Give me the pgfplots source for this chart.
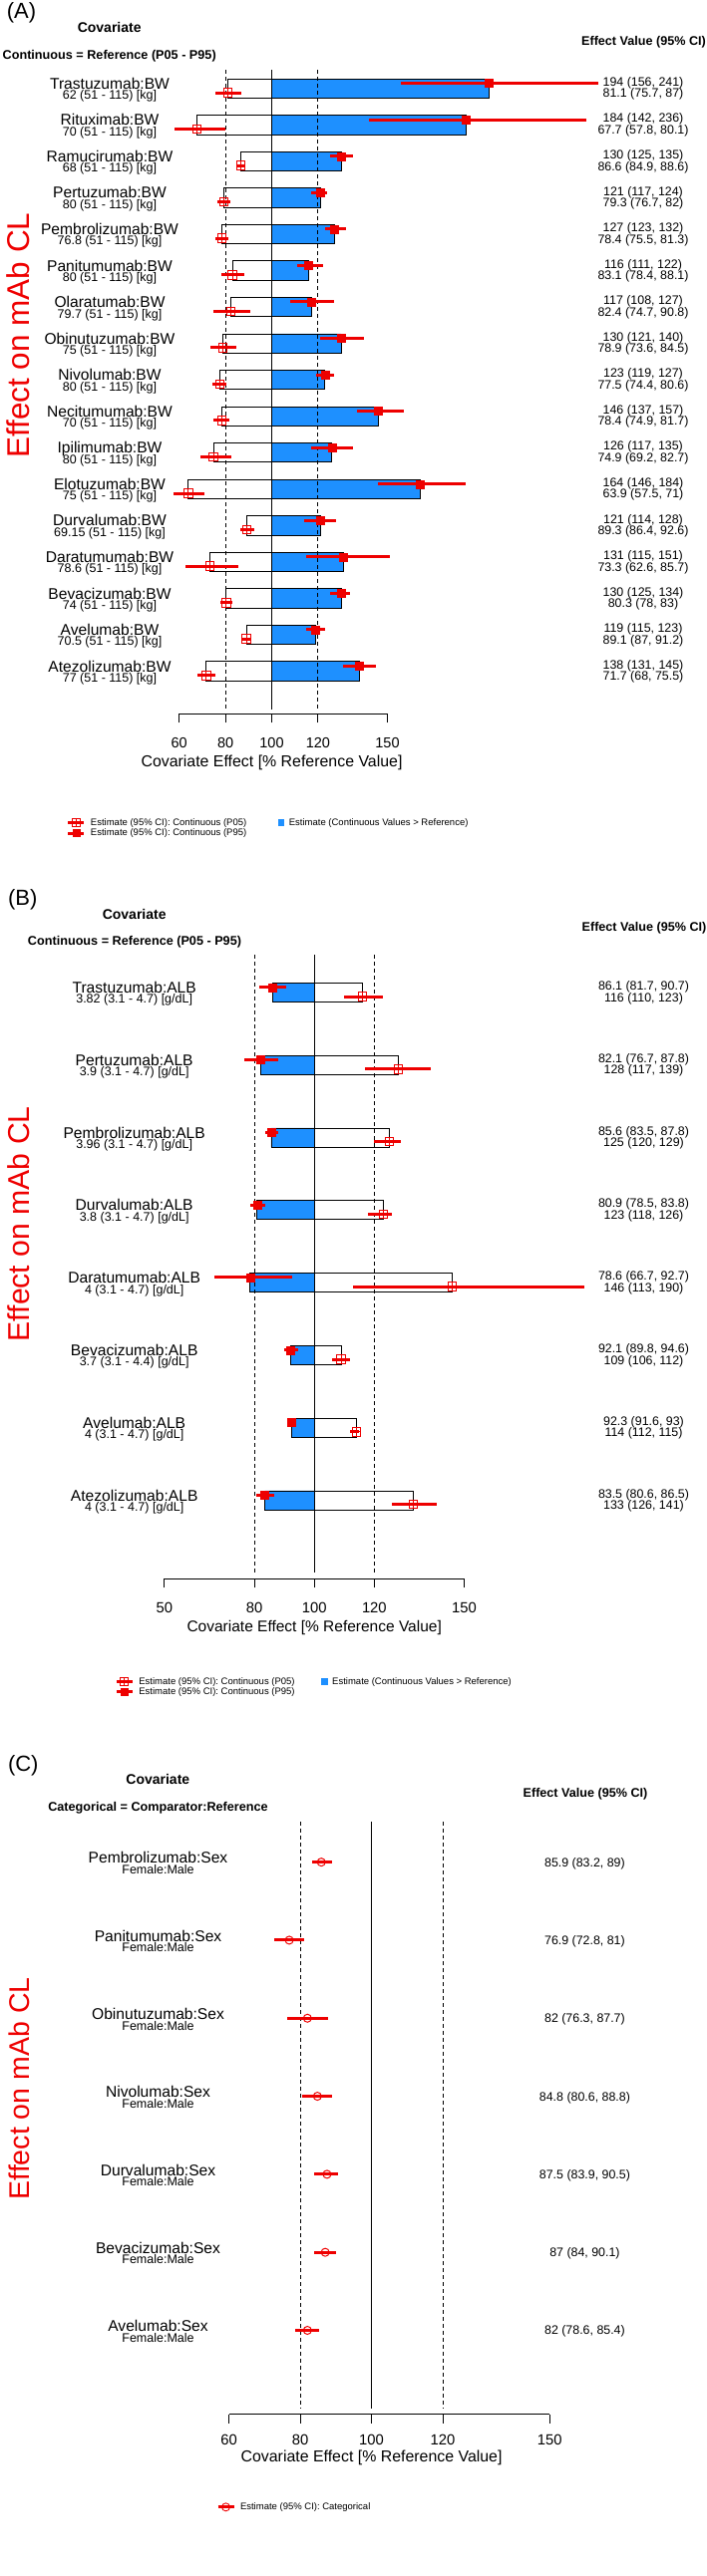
\documentclass[border=0pt]{standalone}
\usepackage{fontspec}
\setmainfont{Liberation Sans}
\usepackage{pgfplots}
\usepackage{pgfplotstable}
\pgfplotsset{compat=1.18}
\definecolor{dodger}{RGB}{30,144,255}
\definecolor{myred}{RGB}{238,0,0}
\newcommand\fs[1]{\fontsize{#1}{#1}\selectfont}

\pgfdeclareplotmark{boxplus}{%
  \pgfpathrectangle{\pgfpoint{-\pgfplotmarksize}{-\pgfplotmarksize}}{\pgfpoint{2\pgfplotmarksize}{2\pgfplotmarksize}}%
  \pgfpathmoveto{\pgfpoint{-\pgfplotmarksize}{0pt}}\pgfpathlineto{\pgfpoint{\pgfplotmarksize}{0pt}}%
  \pgfpathmoveto{\pgfpoint{0pt}{-\pgfplotmarksize}}\pgfpathlineto{\pgfpoint{0pt}{\pgfplotmarksize}}%
  \pgfusepathqstroke}

\pgfplotstableread{
name e95 l95 h95 e05 l05 h05
Trastuzumab 194 156 241 81.1 75.7 87
Rituximab 184 142 236 67.7 57.8 80.1
Ramucirumab 130 125 135 86.6 84.9 88.6
Pertuzumab 121 117 124 79.3 76.7 82
Pembrolizumab 127 123 132 78.4 75.5 81.3
Panitumumab 116 111 122 83.1 78.4 88.1
Olaratumab 117 108 127 82.4 74.7 90.8
Obinutuzumab 130 121 140 78.9 73.6 84.5
Nivolumab 123 119 127 77.5 74.4 80.6
Necitumumab 146 137 157 78.4 74.9 81.7
Ipilimumab 126 117 135 74.9 69.2 82.7
Elotuzumab 164 146 184 63.9 57.5 71
Durvalumab 121 114 128 89.3 86.4 92.6
Daratumumab 131 115 151 73.3 62.6 85.7
Bevacizumab 130 125 134 80.3 78 83
Avelumab 119 115 123 89.1 87 91.2
Atezolizumab 138 131 145 71.7 68 75.5
}\tabA

\pgfplotstableread{
name e95 l95 h95 e05 l05 h05
Trastuzumab 86.1 81.7 90.7 116 110 123
Pertuzumab 82.1 76.7 87.8 128 117 139
Pembrolizumab 85.6 83.5 87.8 125 120 129
Durvalumab 80.9 78.5 83.8 123 118 126
Daratumumab 78.6 66.7 92.7 146 113 190
Bevacizumab 92.1 89.8 94.6 109 106 112
Avelumab 92.3 91.6 93 114 112 115
Atezolizumab 83.5 80.6 86.5 133 126 141
}\tabB

\pgfplotstableread{
name est lo hi
Pembrolizumab 85.9 83.2 89
Panitumumab 76.9 72.8 81
Obinutuzumab 82 76.3 87.7
Nivolumab 84.8 80.6 88.8
Durvalumab 87.5 83.9 90.5
Bevacizumab 87 84 90.1
Avelumab 82 78.6 85.4
}\tabC

% row text: #1 label x, #2 value x, #3 row, #4 name, #5 sub, #6 top value, #7 bottom value
\newcommand\rowlab[7]{%
  \node[anchor=base, font={\fs{15.6}}, yshift=-0.6pt] at (axis cs:#1,-#3) {#4};
  \node[anchor=base, font={\fs{12.5}}, yshift=-11pt] at (axis cs:#1,-#3) {#5};
  \node[anchor=base, font={\fs{12.4}}, yshift=2.3pt] at (axis cs:#2,-#3) {#6};
  \node[anchor=base, font={\fs{12.4}}, yshift=-9.2pt] at (axis cs:#2,-#3) {#7};
}
\newcommand\rowlabC[5]{%
  \node[anchor=base, font={\fs{15.6}}, yshift=-1.3pt] at (axis cs:#1,-#3) {#4:Sex};
  \node[anchor=base, font={\fs{12.5}}, yshift=-11.8pt] at (axis cs:#1,-#3) {Female:Male};
  \node[anchor=base, font={\fs{12.4}}, yshift=-4.5pt] at (axis cs:#2,-#3) {#5};
}

\pgfplotsset{
  forest/.style={
    scale only axis, anchor=north west, clip=false, enlargelimits=false,
    axis x line*=bottom, axis y line=none, ytick=\empty,
    x axis line style={-, line width=1pt},
    tick align=outside, major tick length=9pt,
    xtick style={black, line width=1pt},
    xlabel={Covariate Effect [\% Reference Value]},
    legend image code/.code={\draw[mark repeat=2,mark phase=2,##1] plot coordinates {(0pt,0pt) (8pt,0pt) (16pt,0pt)};},
    legend style={draw=none, fill=none, inner sep=0pt, outer sep=0pt, font={\fs{9.5}},
      anchor=north west, legend cell align=left, nodes={inner sep=1pt}, row sep=0pt,
      /tikz/every odd column/.append style={column sep=4pt}},
  },
  refl/.style={black, line width=1pt, forget plot},
  dashl/.style={black, line width=1pt, dash pattern=on 4pt off 3pt, forget plot},
}

\begin{document}
\begin{tikzpicture}
\useasboundingbox (0,0) rectangle (709pt,-2585pt);

% ---------------- Panel A ----------------
\node[anchor=base west, font={\fs{22}}] at (3.3pt,-18.7pt) {(A)};
\node[anchor=base, font={\bfseries\fs{14}}] at (109.7pt,-32.7pt) {Covariate};
\node[anchor=base, font={\bfseries\fs{12.65}}] at (109.7pt,-59.5pt) {Continuous = Reference (P05 - P95)};
\node[anchor=base, font={\bfseries\fs{12.6}}] at (645.5pt,-45.2pt) {Effect Value (95\% CI)};
\node[rotate=90, anchor=base, font={\fs{31.5}}, text=myred] at (29.4pt,-336.7pt) {Effect on mAb CL};

\begin{axis}[forest,
  width=208.8pt, height=646.2pt, at={(179.7pt,-70.06pt)},
  xmin=-40, xmax=50, ymin=-17.17, ymax=0.51,
  xtick={-40,-20,0,20,50}, xticklabels={60,80,100,120,150},
  xticklabel style={font={\fs{14.5}}, anchor=base, yshift=-25.2pt},
  xlabel style={font={\fs{15.9}}, at={(axis description cs:0.4444,0)}, anchor=base, yshift=-53.7pt},
  legend columns=2,
  legend style={at={(-0.5398,-0.1613)}, /tikz/every even column/.append style={column sep=31pt}},
]
\addplot[xbar, bar shift=0pt, bar width=19.3pt, fill=dodger, draw=black, line width=0.8pt, forget plot]
  table[x expr=\thisrow{e95}-100, y expr=-\coordindex] {\tabA};
\addplot[xbar, bar shift=0pt, bar width=19.3pt, fill=none, draw=black, line width=0.8pt, forget plot]
  table[x expr=\thisrow{e05}-100, y expr=-\coordindex] {\tabA};
\addplot[dashl] coordinates {(-20,0.51) (-20,-17.05)};
\addplot[refl] coordinates {(0,0.51) (0,-17.05)};
\addplot[dashl] coordinates {(20,0.51) (20,-17.05)};
\addplot[only marks, myred, mark=square*, mark size=4pt, mark options={line width=0.4pt}, forget plot,
  error bars/.cd, x dir=both, x explicit, error mark=none, error bar style={line width=3pt, myred}]
  table[x expr=\thisrow{e95}-100, y expr=-\coordindex+0.137,
        x error plus expr=\thisrow{h95}-\thisrow{e95}, x error minus expr=\thisrow{e95}-\thisrow{l95}] {\tabA};
\addplot[only marks, myred, mark=boxplus, mark size=4.3pt, mark options={line width=1pt}, forget plot,
  error bars/.cd, x dir=both, x explicit, error mark=none, error bar style={line width=3pt, myred}]
  table[x expr=\thisrow{e05}-100, y expr=-\coordindex-0.118,
        x error plus expr=\thisrow{h05}-\thisrow{e05}, x error minus expr=\thisrow{e05}-\thisrow{l05}] {\tabA};
\addlegendimage{myred, line width=3pt, mark=boxplus, mark size=4pt, mark options={line width=0.9pt}}
\addlegendentry{Estimate (95\% CI): Continuous (P05)}
\addlegendimage{only marks, mark=square*, mark size=2.8pt, mark options={fill=dodger, draw=dodger, line width=0pt}}
\addlegendentry{Estimate (Continuous Values > Reference)}
\addlegendimage{myred, line width=3pt, mark=square*, mark size=3.5pt, mark options={line width=0.4pt}}
\addlegendentry{Estimate (95\% CI): Continuous (P95)}
\rowlab{-70.04}{160.56}{0}{Trastuzumab:BW}{62 (51 - 115) [kg]}{194 (156, 241)}{81.1 (75.7, 87)}
\rowlab{-70.04}{160.56}{1}{Rituximab:BW}{70 (51 - 115) [kg]}{184 (142, 236)}{67.7 (57.8, 80.1)}
\rowlab{-70.04}{160.56}{2}{Ramucirumab:BW}{68 (51 - 115) [kg]}{130 (125, 135)}{86.6 (84.9, 88.6)}
\rowlab{-70.04}{160.56}{3}{Pertuzumab:BW}{80 (51 - 115) [kg]}{121 (117, 124)}{79.3 (76.7, 82)}
\rowlab{-70.04}{160.56}{4}{Pembrolizumab:BW}{76.8 (51 - 115) [kg]}{127 (123, 132)}{78.4 (75.5, 81.3)}
\rowlab{-70.04}{160.56}{5}{Panitumumab:BW}{80 (51 - 115) [kg]}{116 (111, 122)}{83.1 (78.4, 88.1)}
\rowlab{-70.04}{160.56}{6}{Olaratumab:BW}{79.7 (51 - 115) [kg]}{117 (108, 127)}{82.4 (74.7, 90.8)}
\rowlab{-70.04}{160.56}{7}{Obinutuzumab:BW}{75 (51 - 115) [kg]}{130 (121, 140)}{78.9 (73.6, 84.5)}
\rowlab{-70.04}{160.56}{8}{Nivolumab:BW}{80 (51 - 115) [kg]}{123 (119, 127)}{77.5 (74.4, 80.6)}
\rowlab{-70.04}{160.56}{9}{Necitumumab:BW}{70 (51 - 115) [kg]}{146 (137, 157)}{78.4 (74.9, 81.7)}
\rowlab{-70.04}{160.56}{10}{Ipilimumab:BW}{80 (51 - 115) [kg]}{126 (117, 135)}{74.9 (69.2, 82.7)}
\rowlab{-70.04}{160.56}{11}{Elotuzumab:BW}{75 (51 - 115) [kg]}{164 (146, 184)}{63.9 (57.5, 71)}
\rowlab{-70.04}{160.56}{12}{Durvalumab:BW}{69.15 (51 - 115) [kg]}{121 (114, 128)}{89.3 (86.4, 92.6)}
\rowlab{-70.04}{160.56}{13}{Daratumumab:BW}{78.6 (51 - 115) [kg]}{131 (115, 151)}{73.3 (62.6, 85.7)}
\rowlab{-70.04}{160.56}{14}{Bevacizumab:BW}{74 (51 - 115) [kg]}{130 (125, 134)}{80.3 (78, 83)}
\rowlab{-70.04}{160.56}{15}{Avelumab:BW}{70.5 (51 - 115) [kg]}{119 (115, 123)}{89.1 (87, 91.2)}
\rowlab{-70.04}{160.56}{16}{Atezolizumab:BW}{77 (51 - 115) [kg]}{138 (131, 145)}{71.7 (68, 75.5)}
\end{axis}

% ---------------- Panel B ----------------
\node[anchor=base west, font={\fs{22}}] at (4.5pt,-908.7pt) {(B)};
\node[anchor=base, font={\bfseries\fs{14}}] at (134.7pt,-922.7pt) {Covariate};
\node[anchor=base, font={\bfseries\fs{12.65}}] at (135pt,-948.8pt) {Continuous = Reference (P05 - P95)};
\node[anchor=base, font={\bfseries\fs{12.6}}] at (646pt,-934.5pt) {Effect Value (95\% CI)};
\node[rotate=90, anchor=base, font={\fs{30.2}}, text=myred] at (29.4pt,-1228.3pt) {Effect on mAb CL};

\begin{axis}[forest,
  width=300.7pt, height=626.0pt, at={(164.85pt,-958.3pt)},
  xmin=-50, xmax=50, ymin=-8.084, ymax=0.515,
  xtick={-50,-20,0,20,50}, xticklabels={50,80,100,120,150},
  xticklabel style={font={\fs{14.8}}, anchor=base, yshift=-24.8pt},
  xlabel style={font={\fs{15.5}}, at={(axis description cs:0.5,0)}, anchor=base, yshift=-52.9pt},
  legend columns=2,
  legend style={at={(-0.1646,-0.1564)}, /tikz/every even column/.append style={column sep=26pt}},
]
\addplot[xbar, bar shift=0pt, bar width=19pt, fill=dodger, draw=black, line width=0.8pt, forget plot]
  table[x expr=\thisrow{e95}-100, y expr=-\coordindex] {\tabB};
\addplot[xbar, bar shift=0pt, bar width=19pt, fill=none, draw=black, line width=0.8pt, forget plot]
  table[x expr=\thisrow{e05}-100, y expr=-\coordindex] {\tabB};
\addplot[dashl] coordinates {(-20,0.515) (-20,-8.0)};
\addplot[refl] coordinates {(0,0.515) (0,-8.0)};
\addplot[dashl] coordinates {(20,0.515) (20,-8.0)};
\addplot[only marks, myred, mark=square*, mark size=4pt, mark options={line width=0.4pt}, forget plot,
  error bars/.cd, x dir=both, x explicit, error mark=none, error bar style={line width=3pt, myred}]
  table[x expr=\thisrow{e95}-100, y expr=-\coordindex+0.070,
        x error plus expr=\thisrow{h95}-\thisrow{e95}, x error minus expr=\thisrow{e95}-\thisrow{l95}] {\tabB};
\addplot[only marks, myred, mark=boxplus, mark size=4.3pt, mark options={line width=1pt}, forget plot,
  error bars/.cd, x dir=both, x explicit, error mark=none, error bar style={line width=3pt, myred}]
  table[x expr=\thisrow{e05}-100, y expr=-\coordindex-0.058,
        x error plus expr=\thisrow{h05}-\thisrow{e05}, x error minus expr=\thisrow{e05}-\thisrow{l05}] {\tabB};
\addlegendimage{myred, line width=3pt, mark=boxplus, mark size=4pt, mark options={line width=0.9pt}}
\addlegendentry{Estimate (95\% CI): Continuous (P05)}
\addlegendimage{only marks, mark=square*, mark size=2.8pt, mark options={fill=dodger, draw=dodger, line width=0pt}}
\addlegendentry{Estimate (Continuous Values > Reference)}
\addlegendimage{myred, line width=3pt, mark=square*, mark size=3.5pt, mark options={line width=0.4pt}}
\addlegendentry{Estimate (95\% CI): Continuous (P95)}
\rowlab{-60.03}{109.84}{0}{Trastuzumab:ALB}{3.82 (3.1 - 4.7) [g/dL]}{86.1 (81.7, 90.7)}{116 (110, 123)}
\rowlab{-60.03}{109.84}{1}{Pertuzumab:ALB}{3.9 (3.1 - 4.7) [g/dL]}{82.1 (76.7, 87.8)}{128 (117, 139)}
\rowlab{-60.03}{109.84}{2}{Pembrolizumab:ALB}{3.96 (3.1 - 4.7) [g/dL]}{85.6 (83.5, 87.8)}{125 (120, 129)}
\rowlab{-60.03}{109.84}{3}{Durvalumab:ALB}{3.8 (3.1 - 4.7) [g/dL]}{80.9 (78.5, 83.8)}{123 (118, 126)}
\rowlab{-60.03}{109.84}{4}{Daratumumab:ALB}{4 (3.1 - 4.7) [g/dL]}{78.6 (66.7, 92.7)}{146 (113, 190)}
\rowlab{-60.03}{109.84}{5}{Bevacizumab:ALB}{3.7 (3.1 - 4.4) [g/dL]}{92.1 (89.8, 94.6)}{109 (106, 112)}
\rowlab{-60.03}{109.84}{6}{Avelumab:ALB}{4 (3.1 - 4.7) [g/dL]}{92.3 (91.6, 93)}{114 (112, 115)}
\rowlab{-60.03}{109.84}{7}{Atezolizumab:ALB}{4 (3.1 - 4.7) [g/dL]}{83.5 (80.6, 86.5)}{133 (126, 141)}
\end{axis}

% ---------------- Panel C ----------------
\node[anchor=base west, font={\fs{22}}] at (4.5pt,-1777.7pt) {(C)};
\node[anchor=base, font={\bfseries\fs{14}}] at (158.3pt,-1790.7pt) {Covariate};
\node[anchor=base, font={\bfseries\fs{12.65}}] at (158.5pt,-1817.2pt) {Categorical = Comparator:Reference};
\node[anchor=base, font={\bfseries\fs{12.6}}] at (587pt,-1803.5pt) {Effect Value (95\% CI)};
\node[rotate=90, anchor=base, font={\fs{28.5}}, text=myred] at (29pt,-2095.9pt) {Effect on mAb CL};

\begin{axis}[forest,
  width=321.5pt, height=594.5pt, at={(229.7pt,-1828.3pt)},
  xmin=-40, xmax=50, ymin=-7.077, ymax=0.515,
  xtick={-40,-20,0,20,50}, xticklabels={60,80,100,120,150},
  xticklabel style={font={\fs{14.8}}, anchor=base, yshift=-21.8pt},
  xlabel style={font={\fs{15.9}}, at={(axis description cs:0.4444,0)}, anchor=base, yshift=-47.3pt},
  legend style={at={(-0.0395,-0.1477)}},
]
\addplot[dashl] coordinates {(-20,0.515) (-20,-7.0)};
\addplot[refl] coordinates {(0,0.515) (0,-7.0)};
\addplot[dashl] coordinates {(20,0.515) (20,-7.0)};
\addplot[only marks, myred, mark=o, mark size=4pt, mark options={line width=1pt}, forget plot,
  error bars/.cd, x dir=both, x explicit, error mark=none, error bar style={line width=3pt, myred}]
  table[x expr=\thisrow{est}-100, y expr=-\coordindex,
        x error plus expr=\thisrow{hi}-\thisrow{est}, x error minus expr=\thisrow{est}-\thisrow{lo}] {\tabC};
\addlegendimage{myred, line width=3pt, mark=o, mark size=4pt, mark options={line width=0.9pt}}
\addlegendentry{Estimate (95\% CI): Categorical}
\rowlabC{-59.93}{59.87}{0}{Pembrolizumab}{85.9 (83.2, 89)}
\rowlabC{-59.93}{59.87}{1}{Panitumumab}{76.9 (72.8, 81)}
\rowlabC{-59.93}{59.87}{2}{Obinutuzumab}{82 (76.3, 87.7)}
\rowlabC{-59.93}{59.87}{3}{Nivolumab}{84.8 (80.6, 88.8)}
\rowlabC{-59.93}{59.87}{4}{Durvalumab}{87.5 (83.9, 90.5)}
\rowlabC{-59.93}{59.87}{5}{Bevacizumab}{87 (84, 90.1)}
\rowlabC{-59.93}{59.87}{6}{Avelumab}{82 (78.6, 85.4)}
\end{axis}
\end{tikzpicture}
\end{document}
